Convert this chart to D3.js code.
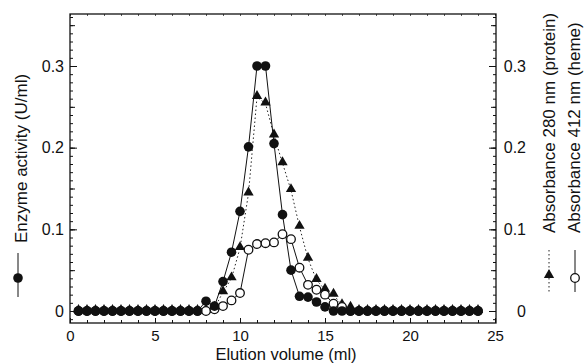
<!DOCTYPE html>
<html>
<head>
<meta charset="utf-8">
<script src="https://cdn.jsdelivr.net/npm/d3@7"></script>
<style>
  body { margin: 0; background: #fff; }
  text { font-family: "Liberation Sans", Arial, sans-serif; fill: #111; }
</style>
</head>
<body>
<svg id="chart" width="588" height="364"></svg>
<script>
// fraction elution volumes (ml)
const volume = [0.5, 1, 1.5, 2, 2.5, 3, 3.5, 4, 4.5, 5, 5.5, 6, 6.5, 7, 7.5, 8,
    8.5, 9, 9.5, 10, 10.5, 11, 11.5, 12, 12.5, 13, 13.5, 14, 14.5, 15, 15.5, 16,
    16.5, 17, 17.5, 18, 18.5, 19, 19.5, 20, 20.5, 21, 21.5, 22, 22.5, 23, 23.5, 24];

// enzyme activity (U/ml), filled circles
const enzyme = [0, 0, 0, 0, 0, 0, 0, 0, 0, 0, 0, 0, 0, 0, 0, 0.012,
    0.006, 0.036, 0.072, 0.122, 0.201, 0.300, 0.300, 0.205, 0.118, 0.050, 0.018, 0.017, 0.011, 0.005, 0, 0,
    0, 0, 0, 0, 0, 0, 0, 0, 0, 0, 0, 0, 0, 0, 0, 0];

// absorbance 280 nm, filled triangles
const a280 = [0, 0, 0, 0, 0, 0, 0, 0, 0, 0, 0, 0, 0, 0, 0, 0,
    0.004, 0.023, 0.040, 0.077, 0.144, 0.262, 0.254, 0.215, 0.181, 0.148, 0.103, 0.064, 0.038, 0.026, 0.020, 0.007,
    0.004, 0, 0, 0, 0, 0, 0, 0, 0, 0, 0, 0, 0, 0, 0, 0];

// absorbance 412 nm, open circles
const a412 = [0, 0, 0, 0, 0, 0, 0, 0, 0, 0, 0, 0, 0, 0, 0, 0,
    0.002, 0.006, 0.013, 0.022, 0.075, 0.082, 0.083, 0.084, 0.094, 0.088, 0.053, 0.032, 0.026, 0.020, 0.009, 0.005,
    0, 0, 0, 0, 0, 0, 0, 0, 0, 0, 0, 0, 0, 0, 0, 0];

const xTicks = [0, 5, 10, 15, 20, 25];
const yTicks = [0, 0.1, 0.2, 0.3];

const svg = d3.select("#chart");
const font = '"Liberation Sans", Arial, sans-serif';

const m = { left: 70, right: 496, top: 14, bottom: 323 };

const x = d3.scaleLinear().domain([0, 25]).range([70, 495]);
const y = d3.scaleLinear().domain([0, 0.3]).range([311, 66]);

const yMinor = d3.range(-1, 37).map((i) => i / 100).filter((v) => y(v) >= m.top && y(v) <= m.bottom);
const yMid = d3.range(0, 8).map((i) => i * 0.05).filter((v) => y(v) >= m.top);
const xMinor = d3.range(0, 26);

svg.append("rect")
    .attr("width", 588).attr("height", 364).attr("fill", "#fff");

const styleAxis = (g) => {
    g.select(".domain").remove();
    g.selectAll("line").attr("stroke", "#111").attr("stroke-width", 1);
    g.selectAll("text").attr("font-family", font).attr("font-size", 16).attr("fill", "#111");
};

// left axis
svg.append("g").attr("transform", "translate(" + m.left + ",0)")
    .call(d3.axisLeft(y).tickValues(yMinor).tickSizeInner(-3).tickSizeOuter(0).tickFormat(""))
    .call(styleAxis);
svg.append("g").attr("transform", "translate(" + m.left + ",0)")
    .call(d3.axisLeft(y).tickValues(yMid).tickSizeInner(-5).tickSizeOuter(0).tickFormat(""))
    .call(styleAxis);
svg.append("g").attr("transform", "translate(" + m.left + ",0)")
    .call(d3.axisLeft(y).tickValues(yTicks).tickSizeInner(-7).tickSizeOuter(0).tickPadding(6)
        .tickFormat((d) => d === 0 ? "0" : d3.format(".1f")(d)))
    .call(styleAxis);

// right axis
svg.append("g").attr("transform", "translate(" + m.right + ",0)")
    .call(d3.axisRight(y).tickValues(yMinor).tickSizeInner(-3).tickSizeOuter(0).tickFormat(""))
    .call(styleAxis);
svg.append("g").attr("transform", "translate(" + m.right + ",0)")
    .call(d3.axisRight(y).tickValues(yMid).tickSizeInner(-5).tickSizeOuter(0).tickFormat(""))
    .call(styleAxis);
svg.append("g").attr("transform", "translate(" + m.right + ",0)")
    .call(d3.axisRight(y).tickValues(yTicks).tickSizeInner(-7).tickSizeOuter(0)
        .tickFormat((d) => d === 0 ? "0" : d3.format(".1f")(d)))
    .call(styleAxis)
    .call((g) => g.selectAll("text").attr("text-anchor", "end").attr("x", 30));

// bottom axis
svg.append("g").attr("transform", "translate(0," + m.bottom + ")")
    .call(d3.axisBottom(x).tickValues(xMinor).tickSizeInner(-3).tickSizeOuter(0).tickFormat(""))
    .call(styleAxis);
svg.append("g").attr("transform", "translate(0," + m.bottom + ")")
    .call(d3.axisBottom(x).tickValues(xTicks).tickSizeInner(-5).tickSizeOuter(0).tickPadding(7))
    .call(styleAxis)
    .call((g) => g.selectAll("text").attr("font-size", 15));

// top ticks (faint)
svg.append("g").attr("transform", "translate(0," + m.top + ")")
    .call(d3.axisTop(x).tickValues(xMinor).tickSizeInner(-2).tickSizeOuter(0).tickFormat(""))
    .call(styleAxis)
    .call((g) => g.selectAll("line").attr("stroke-width", 0.7));

// frame
svg.append("rect")
    .attr("x", m.left).attr("y", m.top)
    .attr("width", m.right - m.left).attr("height", m.bottom - m.top)
    .attr("fill", "none").attr("stroke", "#111").attr("stroke-width", 1.3);

const pts = (vals) => volume.map((v, i) => ({ v: v, a: vals[i] }));
const line = d3.line().x((d) => x(d.v)).y((d) => y(d.a));

svg.append("path").datum(pts(a280))
    .attr("d", line).attr("fill", "none")
    .attr("stroke", "#222").attr("stroke-width", 1).attr("stroke-dasharray", "1.5,2.5");
svg.append("path").datum(pts(a412))
    .attr("d", line).attr("fill", "none")
    .attr("stroke", "#111").attr("stroke-width", 1);
svg.append("path").datum(pts(enzyme))
    .attr("d", line).attr("fill", "none")
    .attr("stroke", "#111").attr("stroke-width", 1);

const tri = d3.symbol().type(d3.symbolTriangle).size(46);

svg.append("g").selectAll(".tri")
    .data(pts(a280))
    .enter()
    .append("path")
    .attr("class", "tri")
    .attr("d", tri)
    .attr("transform", (d) => "translate(" + x(d.v) + "," + (y(d.a) - 1) + ")")
    .attr("fill", "#111");

svg.append("g").selectAll(".open")
    .data(pts(a412))
    .enter()
    .append("circle")
    .attr("class", "open")
    .attr("cx", (d) => x(d.v))
    .attr("cy", (d) => y(d.a))
    .attr("r", 4.3)
    .attr("fill", "#fff")
    .attr("stroke", "#111")
    .attr("stroke-width", 1.3);

svg.append("g").selectAll(".filled")
    .data(pts(enzyme))
    .enter()
    .append("circle")
    .attr("class", "filled")
    .attr("cx", (d) => x(d.v))
    .attr("cy", (d) => y(d.a))
    .attr("r", 4.8)
    .attr("fill", "#111");

// axis titles
svg.append("text")
    .attr("x", 286).attr("y", 360)
    .attr("text-anchor", "middle")
    .attr("font-size", 16.5)
    .text("Elution volume (ml)");

svg.append("text")
    .attr("transform", "translate(27,243) rotate(-90)")
    .attr("font-size", 17)
    .text("Enzyme activity (U/ml)");

svg.append("text")
    .attr("transform", "translate(555,233) rotate(-90)")
    .attr("font-size", 17)
    .text("Absorbance 280 nm (protein)");

svg.append("text")
    .attr("transform", "translate(580,233) rotate(-90)")
    .attr("font-size", 17)
    .text("Absorbance 412 nm (heme)");

// legend keys
svg.append("line").attr("x1", 18).attr("x2", 18).attr("y1", 253).attr("y2", 297)
    .attr("stroke", "#111").attr("stroke-width", 1);
svg.append("circle").attr("cx", 18).attr("cy", 278).attr("r", 4.8).attr("fill", "#111");

svg.append("line").attr("x1", 549).attr("x2", 549).attr("y1", 250).attr("y2", 292)
    .attr("stroke", "#222").attr("stroke-width", 1).attr("stroke-dasharray", "1.5,2.5");
svg.append("path").attr("d", tri).attr("transform", "translate(549,275)").attr("fill", "#111");

svg.append("line").attr("x1", 575).attr("x2", 575).attr("y1", 250).attr("y2", 292)
    .attr("stroke", "#111").attr("stroke-width", 1);
svg.append("circle").attr("cx", 575).attr("cy", 278).attr("r", 4.3)
    .attr("fill", "#fff").attr("stroke", "#111").attr("stroke-width", 1.3);
</script>
</body>
</html>
